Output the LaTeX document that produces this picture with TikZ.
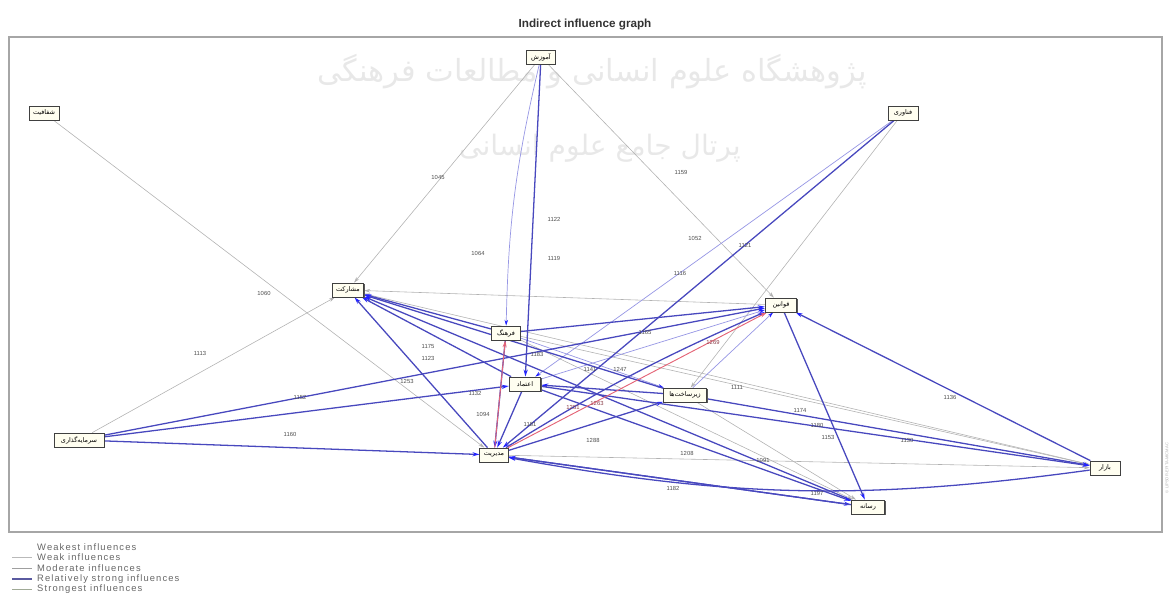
\documentclass[tikz,border=0pt]{standalone}
\usepackage{fontspec}
\setmainfont{Liberation Sans}
\newfontfamily\fafont[Script=Arabic]{DejaVu Sans}
\newfontfamily\lgfont[LetterSpace=12]{Liberation Sans}
\TeXXeTstate=1
\usetikzlibrary{arrows.meta,shadows,backgrounds}

\definecolor{rstrong}{RGB}{72,72,190}
\definecolor{rmod}{RGB}{150,150,228}
\definecolor{rred}{RGB}{228,100,118}
\definecolor{tipblue}{RGB}{35,35,255}

\newcommand\pers[1]{{\fafont\beginR #1\endR}}

\tikzset{
  var/.style={draw=black!75, fill=yellow!6, line width=0.6pt, minimum height=0.42cm,
    inner sep=1pt, font=\fontsize{5.5}{5.5}\selectfont,
    drop shadow={shadow xshift=0.9pt, shadow yshift=-0.9pt, fill=black!65, opacity=1}},
  lbl/.style={font=\fontsize{5}{5}\selectfont, text=black!70, inner sep=0.5pt},
  weak/.style={draw=gray!60, line width=0.5pt, -{Stealth[length=5pt,width=3pt]}},
  moderate/.style={draw=rmod, line width=0.6pt, -{Stealth[length=5pt,width=3pt,color=tipblue]}},
  relstrong/.style={draw=rstrong, line width=1.1pt, -{Stealth[length=6pt,width=3.5pt,color=tipblue]}},
  strongest/.style={draw=rred, line width=0.8pt, -{Stealth[length=6pt,width=3.5pt]}},
}

\begin{document}
\begin{tikzpicture}[x=0.03cm, y=-0.03cm]
  \useasboundingbox (0,0) rectangle (1170,614);

  % title and frame
  \node[font=\bfseries\fontsize{10}{12}\selectfont, text=black!80] (title) at (585,24) {Indirect influence graph};
  \draw[gray!70, line width=1.2pt] (9,37) rectangle (1162,532);
  \node[rotate=90, font=\fontsize{3.5}{4}\selectfont, text=gray!60] (copy) at (1167,468) {\copyright{} LIPSOR-EPITA-MICMAC};

  % variables
  \foreach \i/\x/\y/\w/\t in {1/44/113/0.9/شفافیت, 2/541/57/0.85/آموزش, 3/903/113/0.9/فناوری,
      4/348/290/0.95/مشارکت, 5/506/333/0.85/فرهنگ, 6/525/384/0.95/اعتماد, 7/781/305/0.95/قوانین,
      8/685/395/1.3/زیرساخت‌ها, 9/79/440/1.5/سرمایه‌گذاری, 10/494/455/0.85/مدیریت,
      11/868/507/1.0/رسانه, 12/1105/468/0.9/بازار}
    \node[var, minimum width=\w cm] (v\i) at (\x,\y) {\pers{\t}};

  \begin{scope}[on background layer]
    % watermark
    \node[font=\fafont\fontsize{26}{30}\selectfont, text=black!9] (wm1) at (592,72) {\beginR پژوهشگاه علوم انسانی و مطالعات فرهنگی\endR};
    \node[font=\fafont\fontsize{24}{28}\selectfont, text=black!9] (wm2) at (600,148) {\beginR پرتال جامع علوم انسانی\endR};

    % influences
    \foreach \a/\b in {1/10, 2/4, 2/7, 3/8, 9/4, 12/4, 10/12, 8/11, 5/12, 5/11, 7/4}
      \draw[weak] (v\a) -- (v\b);
    \foreach \a/\b in {3/6, 8/7, 5/8, 6/7}
      \draw[moderate] (v\a) -- (v\b);
    \draw[moderate] (v2) to[bend right=6] (v5);
    \foreach \a/\b in {2/6, 3/10, 9/10, 9/6, 9/7, 10/4, 6/4, 5/4, 8/4, 11/4, 5/7, 12/7, 7/11,
        10/8, 8/6, 8/12, 6/12, 10/11, 6/11, 5/10, 6/10, 11/10}
      \draw[relstrong] (v\a) -- (v\b);
    \draw[relstrong] (v10) to[bend left=4] (v7);
    \draw[relstrong] (v12) to[bend left=9] (v10);
    \foreach \a/\b in {10/7, 10/5}
      \draw[strongest] (v\a) -- (v\b);
  \end{scope}

  % values
  \foreach \x/\y/\t in {264/293/1060, 438/177/1045, 478/253/1064, 554/219/1122, 554/258/1119,
      681/172/1159, 695/238/1052, 745/245/1121, 680/273/1116, 200/353/1113, 300/397/1152,
      290/434/1160, 407/381/1253, 428/347/1175, 428/358/1123, 475/393/1132, 483/414/1094,
      537/354/1183, 645/332/1165, 590/369/1141, 620/369/1247, 530/424/1181, 593/440/1288,
      687/453/1208, 673/488/1182, 737/387/1111, 950/397/1136, 800/410/1174, 817/425/1180,
      828/437/1153, 907/440/1130, 763/460/1091, 817/493/1197}
    \node[lbl] (l\t) at (\x,\y) {\t};
  \foreach \x/\y/\t in {713/342/1269, 573/407/1251, 597/403/1263}
    \node[lbl, text=rred!60!black] (l\t) at (\x,\y) {\t};

  % legend
  \foreach \c/\w/\t [count=\i] in {white/0.4/Weakest influences, gray!55/0.5/Weak influences,
      gray!75/0.7/Moderate influences, {rgb,255:red,90;green,90;blue,160}/1.2/Relatively strong influences,
      {rgb,255:red,160;green,170;blue,150}/1.4/Strongest influences} {
    \draw[draw=\c, line width=\w pt] (12,{536.4+10.6*\i}) -- (32,{536.4+10.6*\i});
    \node[anchor=west, inner sep=0pt, font=\lgfont\fontsize{8}{9}\selectfont, text=black!60] (lg\i) at (37,{536.4+10.6*\i}) {\t};
  }
\end{tikzpicture}
\end{document}
